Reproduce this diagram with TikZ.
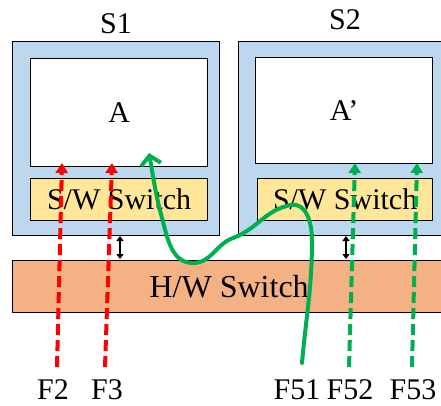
\documentclass[tikz,border=0pt]{standalone}
\usepackage{fontspec}
\setmainfont{Liberation Serif}
\newfontfamily\figfont{Liberation Serif}
\usetikzlibrary{arrows.meta}
\definecolor{srvblue}{RGB}{189,215,238}
\definecolor{swyellow}{RGB}{255,230,153}
\definecolor{hworange}{RGB}{244,177,131}
\definecolor{flowgreen}{RGB}{0,176,80}
\tikzset{
  blk/.style={draw=black,line width=1.3pt,inner sep=0pt,anchor=north west},
  redflow/.style={draw=red,line width=4pt,dash pattern=on 11pt off 5pt,-{Triangle[length=10pt,width=12pt]}},
  greenflow/.style={draw=flowgreen,line width=4pt,dash pattern=on 11pt off 5pt,-{Triangle[length=10pt,width=12pt]}},
  link/.style={line width=1.3pt,{Triangle[length=5pt,width=7pt]}-{Triangle[length=5pt,width=7pt]}}
}
\begin{document}
\begin{tikzpicture}[x=1pt,y=-1pt,line join=round,font=\figfont\fontsize{30}{34}\selectfont]
\useasboundingbox (0,0) rectangle (441,405);
\clip (0,0) rectangle (441,405);
% servers
\node[blk,fill=srvblue,minimum width=207pt,minimum height=194pt] (S1) at (12,41) {};
\node[blk,fill=srvblue,minimum width=207pt,minimum height=194pt] (S2) at (238,41) {};
\node[blk,fill=white,minimum width=177pt,minimum height=108pt] (A) at (30,58) {A};
\node[blk,fill=white,minimum width=177pt,minimum height=106pt] (A2) at (255,57) {A’};
\node[blk,fill=swyellow,minimum width=177pt,minimum height=42pt] (SW1) at (30,178) {S/W Switch};
\node[blk,fill=swyellow,minimum width=175pt,minimum height=42pt] (SW2) at (257,178) {S/W Switch};
\node[blk,fill=hworange,minimum width=433pt,minimum height=52pt,font=\figfont\fontsize{32}{36}\selectfont] (HW) at (12,260) {H/W Switch};
\node (L1) at (116,24) {S1};
\node (L2) at (345,20) {S2};
% flow labels
\foreach \n/\x in {F2/53,F3/107,F51/297,F52/350,F53/413}
  \node (\n) at (\x,390) {\n};
% flow ends
\path
  (57,367) coordinate (F2b)  (62,163) coordinate (F2t)
  (105,367) coordinate (F3b) (112,163) coordinate (F3t)
  (349,367) coordinate (F52b) (355,163) coordinate (F52t)
  (412,367) coordinate (F53b) (417,163) coordinate (F53t)
  (302,363) coordinate (F51b) (149,153) coordinate (F51t)
  (120,236) coordinate (D1a) (120,259) coordinate (D1b)
  (346,236) coordinate (D2a) (346,259) coordinate (D2b);
\draw[link] (D1a)--(D1b);
\draw[link] (D2a)--(D2b);
\foreach \f in {F2,F3}
  \draw[redflow] (\f b)--(\f t);
\foreach \f in {F52,F53}
  \draw[greenflow] (\f b)--(\f t);
\draw[flowgreen,line width=4pt,line cap=round,-{Straight Barb[length=9pt,width=20pt,line width=4pt]}]
  (F51b) to[out=85,in=-90] (312,240) to[out=90,in=10] (291,205)
  to[out=190,in=20] (233,238) to[out=200,in=0] (193,263)
  to[out=180,in=-75] (162,218) to[out=105,in=-80] (F51t);
\end{tikzpicture}
\end{document}
